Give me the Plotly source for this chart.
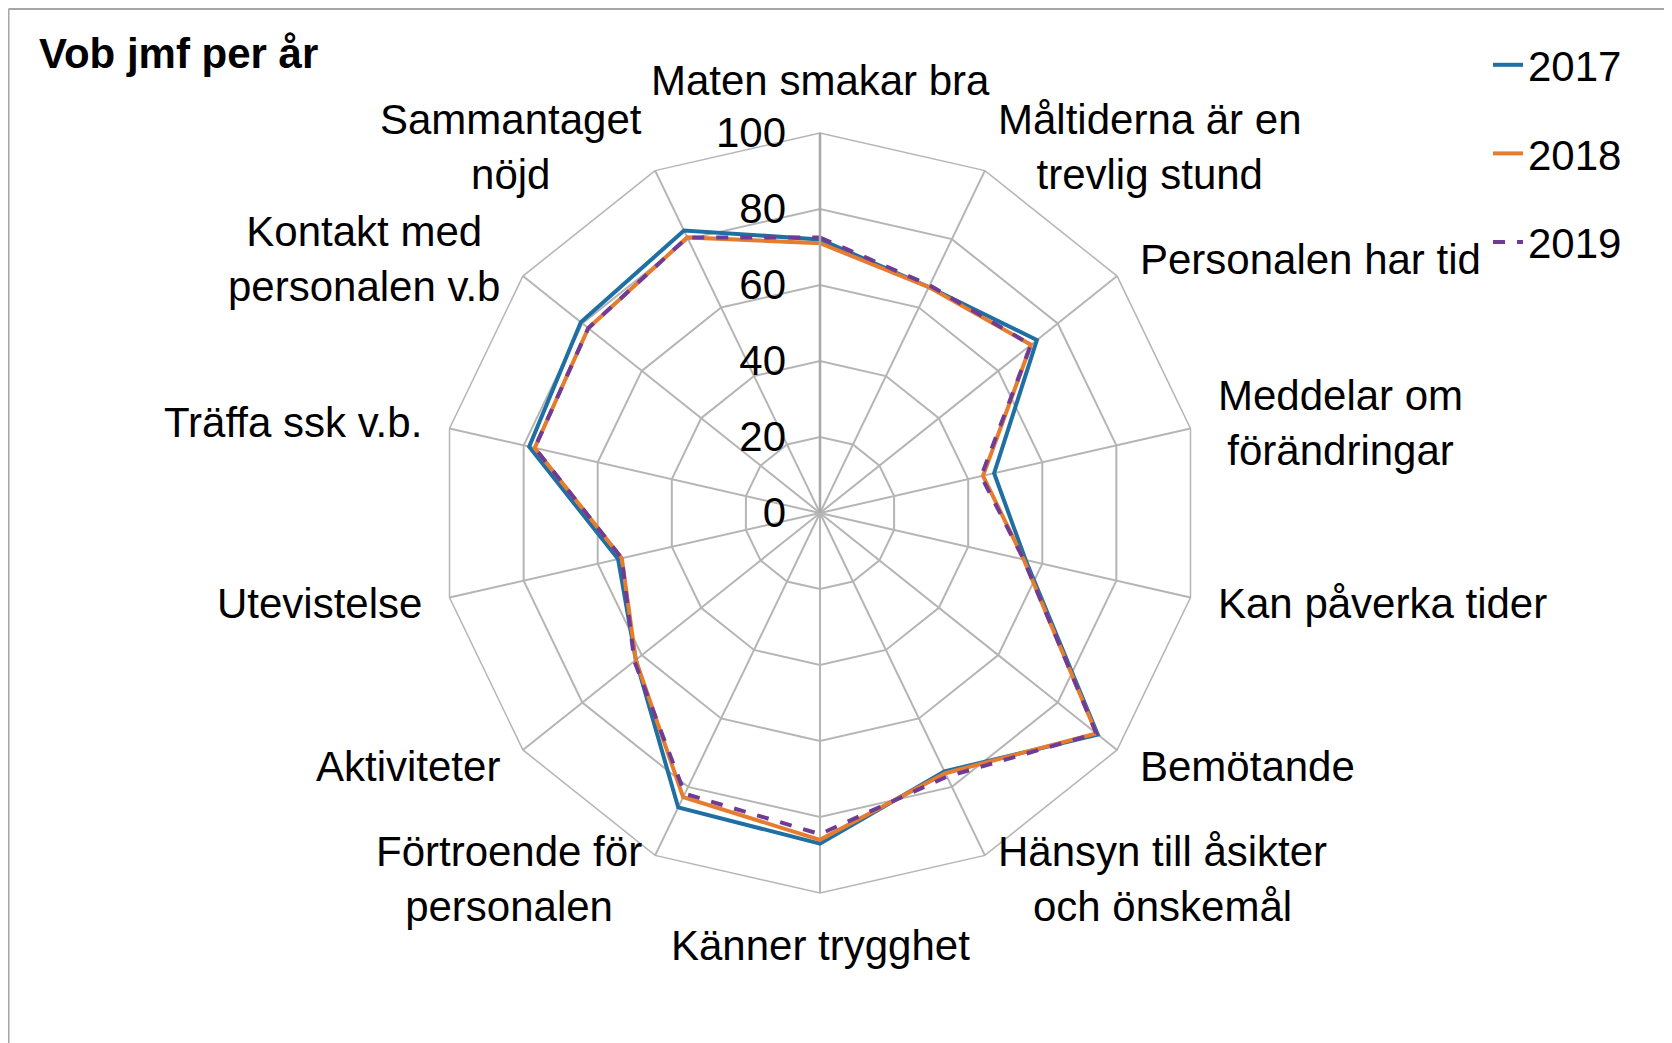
import math
import plotly.graph_objects as go

categories = [
    "Maten smakar bra",
    "Måltiderna är en<br>trevlig stund",
    "Personalen har tid",
    "Meddelar om<br>förändringar",
    "Kan påverka tider",
    "Bemötande",
    "Hänsyn till åsikter<br>och önskemål",
    "Känner trygghet",
    "Förtroende för<br>personalen",
    "Aktiviteter",
    "Utevistelse",
    "Träffa ssk v.b.",
    "Kontakt med<br>personalen v.b",
    "Sammantaget<br>nöjd",
]
v2017 = [72, 66, 73, 47, 55.5, 93.5, 75.5, 87, 86, 62, 54.5, 78.5, 80.5, 82.5]
v2018 = [71, 66, 71, 44, 55, 93, 76, 86, 83, 62, 53.5, 77, 78, 80.5]
v2019 = [72.5, 66.5, 71, 43.5, 55, 93, 77, 84.5, 82, 62.5, 53.5, 77, 78, 80.5]
radial_ticks = [0, 20, 40, 60, 80, 100]

series = [
    ("2017", v2017, "#1f6fa3", "solid"),
    ("2018", v2018, "#e67c30", "solid"),
    ("2019", v2019, "#6e3c94", "dash"),
]

FONT = "Liberation Sans, Arial, sans-serif"
FS = 42

W, H = 1672, 1043
OFF = 8  # page body margin offset
cx, cy, R = 820, 513, 380


def px(x):
    return (x - OFF) / W


def py(y):
    return 1 - (y - OFF) / H


fig = go.Figure()
for name, vals, color, dash in series:
    fig.add_trace(go.Scatterpolar(
        r=vals + vals[:1],
        theta=categories + categories[:1],
        mode="lines",
        name=name,
        legendgroup=name,
        line=dict(color=color, width=4, dash=dash),
    ))

# category labels placed around the web, centred multi-line like the original
annotations = []
n = len(categories)
for i, lab in enumerate(categories):
    a = 2 * math.pi * i / n
    s, c = math.sin(a), math.cos(a)
    rr = R * 1.07
    x = cx + rr * s
    y = cy - rr * c
    xa = "center" if abs(s) < 0.01 else ("left" if s > 0 else "right")
    ya = "bottom" if c > 0.99 else ("top" if c < -0.99 else "middle")
    annotations.append(dict(
        text=lab, x=px(x), y=py(y), xref="paper", yref="paper",
        xanchor=xa, yanchor=ya, align="center", showarrow=False,
        font=dict(family=FONT, size=FS, color="black"),
    ))

fig.update_layout(
    width=W, height=H,
    margin=dict(l=0, r=0, t=0, b=0),
    paper_bgcolor="white",
    plot_bgcolor="white",
    font=dict(family=FONT, size=FS, color="black"),
    title=dict(
        text="<b>Vob jmf per år</b>",
        x=px(39), xanchor="left",
        y=py(53), yanchor="middle",
        font=dict(family=FONT, size=42, color="black"),
    ),
    polar=dict(
        domain=dict(x=[px(cx - R), px(cx + R)], y=[py(cy + R), py(cy - R)]),
        bgcolor="white",
        gridshape="linear",
        angularaxis=dict(
            direction="clockwise",
            rotation=90,
            showline=True,
            linecolor="#b5b5b5",
            linewidth=1.5,
            gridcolor="#b5b5b5",
            gridwidth=1.5,
            showticklabels=False,
            ticks="",
        ),
        radialaxis=dict(
            range=[0, 100],
            angle=90,
            tickangle=90,
            tickvals=radial_ticks,
            showline=True,
            linecolor="#a8a8a8",
            linewidth=2.5,
            gridcolor="#b5b5b5",
            gridwidth=1.5,
            ticks="outside",
            ticklen=18,
            tickcolor="rgba(0,0,0,0)",
            side="counterclockwise",
            tickfont=dict(family=FONT, size=FS, color="black"),
        ),
    ),
    showlegend=True,
    legend=dict(
        x=px(1488), xanchor="left",
        y=py(31), yanchor="top",
        tracegroupgap=31,
        bgcolor="rgba(0,0,0,0)",
        font=dict(family=FONT, size=FS, color="black"),
    ),
    annotations=annotations,
    shapes=[
        dict(type="line", xref="paper", yref="paper", x0=px(8.5), x1=1, y0=py(9), y1=py(9),
             line=dict(color="#a6a6a6", width=2)),
        dict(type="line", xref="paper", yref="paper", x0=px(8.5), x1=px(8.5), y0=0, y1=py(9),
             line=dict(color="#a6a6a6", width=2)),
    ],
)

fig.write_html("out.html")
